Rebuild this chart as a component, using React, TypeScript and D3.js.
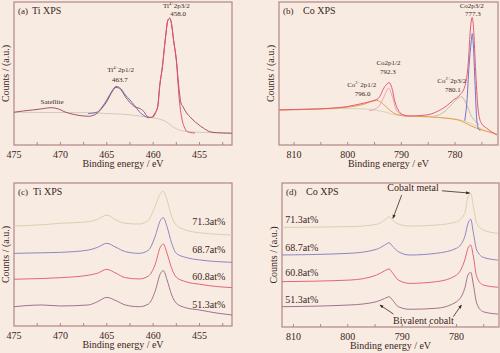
import * as d3 from 'd3';

type Pt = [number, number];

// ---- panel (a): Ti 2p fit ----
const tiRaw: Pt[] = [
  [475, 22.9], [474, 23.8], [473, 24.5], [472, 25.3], [471, 26.1], [470.2, 25.2], [469.5, 23.1],
  [468.5, 21.3], [467.5, 20.3], [467, 20.1], [466.5, 20.6], [466, 22.4], [465.5, 25.9], [465, 30.3],
  [464.5, 36.4], [464.0, 40.3], [463.5, 38.8], [463, 33.8], [462.5, 29.7], [462, 26.8], [461.5, 25.7],
  [461, 23.4], [460.6, 19.8], [460.2, 19.2], [459.8, 22.4], [459.5, 26.8], [459.3, 40.8], [459.0, 54.8],
  [458.7, 73.4], [458.4, 87.4], [458.2, 88.6], [458.0, 83.9], [457.8, 73.4], [457.5, 59.4], [457.2, 38.5],
  [457.0, 29.4], [456.8, 27.0], [456.4, 22.4], [456.0, 19.6], [455.7, 17.5], [455.2, 14.7], [454.6, 11.9],
  [453.9, 9.3], [453.2, 8.6], [452.5, 8.4], [451.5, 8.2],
];
const ti2p3Fit: Pt[] = [
  [460.5, 19.2], [460, 19.6], [459.7, 23.1], [459.5, 27.3], [459.3, 40.8], [459.0, 54.8], [458.7, 73.4],
  [458.4, 87.4], [458.2, 88.6], [458.0, 83.9], [457.8, 73.4], [457.5, 59.4], [457.2, 33.0], [457.0, 22.0],
  [456.8, 15.5], [456.6, 11.9], [456.4, 9.8], [456.0, 8.7], [455.5, 8.4],
];
const ti2p1Fit: Pt[] = [
  [467, 22], [466, 23.1], [465.5, 26.6], [465, 31.5], [464.5, 37.1], [464.0, 40.9], [463.5, 39.5],
  [463, 35], [462.5, 31.5], [462, 27.6], [461.5, 23.3], [461, 20.6], [460.5, 18.9],
];
const tiBackground: Pt[] = [
  [475, 22.9], [470, 22.7], [466.8, 22.6], [465, 22], [463.2, 21.5], [461.5, 20.3], [460.4, 19.4],
  [459.3, 18], [458.6, 16.3], [457.9, 12.8], [457.2, 10.5], [456.1, 9.3], [454, 8.7], [451.5, 8.5],
];

// ---- panel (b): Co 2p fit ----
const coRaw: Pt[] = [
  [812.8, 24.5], [808, 25], [805.8, 25.2], [803.3, 25.7], [800.2, 26.8], [797.7, 28.7], [795.9, 30.3],
  [794.3, 32.6], [793.1, 40.8], [792.3, 43.6], [791.8, 40.3], [791.2, 30.3], [790.6, 24.5], [789.9, 21.5],
  [788.4, 20.3], [785.3, 21], [783.4, 23.3], [781.6, 27.3], [780.3, 31.5], [779.1, 35], [778.2, 40.8],
  [777.5, 59.4], [777.2, 78.1], [776.8, 89.3], [776.5, 78.1], [776.2, 54.8], [775.7, 24.5], [775.1, 15.2],
  [774.1, 11.7], [772.2, 7],
];
const coOxide2p1: Pt[] = [
  [812.8, 24.5], [805, 25.2], [800, 26.5], [797, 28.5], [795.5, 30.5], [794.6, 31.2], [793.5, 29],
  [792.5, 25.5], [791.5, 22.5], [790.5, 21], [789, 20.3], [785, 19.8], [781.6, 18.7], [779, 17],
  [778, 15.2], [776, 11.7], [774, 9.5], [772.2, 7.5],
];
const coMetal2p1: Pt[] = [
  [796, 24], [795, 25], [794, 28], [793.2, 34], [792.4, 39.7], [791.7, 34], [791, 25], [790.2, 21.5], [789, 19.8],
];
const coOxide2p3: Pt[] = [
  [784, 20], [782.5, 22], [781.6, 24.5], [780.5, 29], [779.5, 32.5], [778.8, 33.8], [778.2, 31],
  [777.6, 26], [777.2, 22], [776.3, 17], [775.5, 14],
];
const coMetal2p3: Pt[] = [
  [778.2, 17], [777.8, 30], [777.4, 55], [777.0, 72], [776.8, 78], [776.6, 70], [776.3, 45],
  [776.0, 20], [775.7, 12], [775.3, 10],
];
const coBackground: Pt[] = [
  [812.8, 24.5], [800, 25.5], [796, 25], [793, 23], [791, 21], [788, 20], [782, 19], [779, 17.5],
  [777, 15], [775, 11], [772.2, 7.5],
];

// ---- panel (c): Ti 2p vs Ti content ----
const tiContent = ['71.3at%', '68.7at%', '60.8at%', '51.3at%'];
const tiEnergies = [475, 472, 470, 467, 466, 465, 464, 463, 461.5, 460.5, 459.8, 459.2, 458.9, 458.5, 458, 457.5, 456.5, 455, 453, 451.5];
const ti713 = [69.9, 70.8, 71.8, 72.9, 74.6, 77.6, 74.1, 71.8, 71.3, 74.1, 83.4, 92.8, 94.2, 88.1, 76.4, 70.6, 67.1, 65.2, 64.1, 63.6];
const ti687 = [50.8, 51.2, 51.5, 53.1, 55, 57.8, 55, 52, 50.8, 53.1, 62.4, 74.1, 75.7, 69.4, 57.8, 50.8, 48, 46.2, 45, 44.5];
const ti608 = [32.7, 33.2, 33.8, 35.5, 36.9, 39.6, 36.9, 33.8, 32.9, 35, 42.7, 55.5, 57.3, 50.8, 40.3, 34.1, 31, 29.2, 27.5, 26.8];
const ti513 = [13.5, 14.7, 14, 14.7, 17, 20, 17.7, 14.7, 13.5, 15.4, 24, 36.9, 38.7, 32.2, 21.7, 15.9, 12.8, 11.2, 8.9, 7.7];

// ---- panel (d): Co 2p vs Ti content ----
const coEnergies = [812.1, 799.6, 794.7, 793.2, 792.4, 791.8, 790.7, 788.6, 783.7, 780, 778.5, 777.9, 777.4, 776.9, 776.3, 775.1, 772.4];
const co713 = [69.2, 69.7, 71.3, 74.3, 76.6, 74.3, 71.5, 70.1, 70.8, 73.1, 79, 90.5, 92.8, 83.5, 72, 67.4, 65];
const co687 = [50, 51.2, 54, 56.9, 58.5, 56.2, 52.3, 50, 51.2, 54.7, 62.7, 72, 74.8, 65.1, 53.5, 48.4, 46.5];
const co608 = [31.5, 32.6, 36.1, 39.1, 40.3, 37.7, 32.6, 30.3, 31.5, 36.1, 46.5, 54.7, 56.9, 48.8, 34.9, 29.2, 27.6];
const co513 = [14.1, 15.3, 17.6, 19.9, 21, 18.8, 14.1, 12.3, 13, 17.6, 26.9, 36.1, 38, 29.2, 16.5, 10.6, 9];

const stackColors = ['#d8d0b0', '#8e86c2', '#e5647a', '#a3708f'];

const BG = '#f8ece2';
const FRAME = '#b38585';
const INK = '#3d2424';
const FONT = '"Liberation Serif", "DejaVu Serif", serif';

interface Series { data: Pt[]; color: string; width?: number }
interface Note { text: string; sup?: string; rest?: string; x: number; y: number; size?: number; anchor?: string }
interface Arrow { from: Pt; to: Pt }

interface PanelProps {
  letter: string;
  title: string;
  titleOffset: number;
  left: number; right: number; top: number; bottom: number;
  domain: [number, number];
  ticks: number[];
  minor: number[];
  series: Series[];
  notes: Note[];
  arrows?: Arrow[];
}

function Panel({ letter, title, titleOffset, left, right, top, bottom, domain, ticks, minor, series, notes, arrows = [] }: PanelProps) {
  const x = d3.scaleLinear().domain(domain).range([left, right]);
  const y = d3.scaleLinear().domain([0, 100]).range([bottom, top]);
  const line = d3.line<Pt>().x(d => x(d[0])).y(d => y(d[1])).curve(d3.curveMonotoneX);
  const midX = (left + right) / 2;

  return (
    <g>
      <rect x={left} y={top} width={right - left} height={bottom - top} fill={BG} stroke={FRAME} strokeWidth={1.2} />
      {series.map((s, i) => (
        <path key={i} d={line(s.data) || ''} fill="none" stroke={s.color} strokeWidth={s.width ?? 1} />
      ))}
      {/* inward ticks */}
      {minor.map(t => (
        <line key={t} x1={x(t)} x2={x(t)} y1={bottom} y2={bottom - 3} stroke={FRAME} strokeWidth={1} />
      ))}
      {ticks.map(t => (
        <text key={t} x={x(t)} y={bottom + 12.5} textAnchor="middle" fontSize={10} fill={INK}>{t}</text>
      ))}
      <text x={midX} y={bottom + 22} textAnchor="middle" fontSize={10} fill={INK}>Binding energy / eV</text>
      <text transform={`translate(${left - 5},${(top + bottom) / 2}) rotate(-90)`} textAnchor="middle" fontSize={10} fill={INK}>
        Counts / (a.u.)
      </text>
      <text x={left + 4} y={top + 12} fontSize={9} fill={INK}>{letter}</text>
      <text x={left + titleOffset} y={top + 12} fontSize={10} fill={INK}>{title}</text>
      {notes.map((n, i) => (
        <text key={i} x={x(n.x)} y={y(n.y)} textAnchor={n.anchor ?? 'middle'} fontSize={n.size ?? 7} fill={INK}>
          {n.text}
          {n.sup && <tspan fontSize={(n.size ?? 7) * 0.65} dy={-3}>{n.sup}</tspan>}
          {n.rest && <tspan dy={n.sup ? 3 : 0}>{n.rest}</tspan>}
        </text>
      ))}
      {arrows.map((a, i) => (
        <line key={i} x1={x(a.from[0])} y1={y(a.from[1])} x2={x(a.to[0])} y2={y(a.to[1])}
          stroke={INK} strokeWidth={0.8} markerEnd="url(#arrowHead)" />
      ))}
    </g>
  );
}

const zipStack = (energies: number[], values: number[]): Pt[] => energies.map((e, i) => [e, values[i]]);

export default function App() {
  const tiTicks = [475, 470, 465, 460, 455];
  const tiMinor = d3.range(472.5, 451.5, -2.5);
  const coTicks = [810, 800, 790, 780];
  const coMinor = d3.range(810, 772, -5);

  const tiStack = [ti713, ti687, ti608, ti513];
  const coStack = [co713, co687, co608, co513];

  return (
    <div style={{ position: 'absolute', left: 0, top: 0, width: 500, height: 353, background: BG }}>
      <svg width={500} height={353} fontFamily={FONT}>
        <defs>
          <marker id="arrowHead" viewBox="0 0 10 10" refX="9" refY="5" markerWidth="5" markerHeight="5" orient="auto">
            <path d="M0,1 L10,5 L0,9 z" fill={INK} />
          </marker>
        </defs>
        <rect width={500} height={353} fill={BG} />

        <Panel letter="(a)" title="Ti XPS" titleOffset={18} left={14} right={232} top={2} bottom={145}
          domain={[475, 451.5]} ticks={tiTicks} minor={tiMinor}
          series={[
            { data: tiBackground, color: '#d2cabb' },
            { data: ti2p1Fit, color: '#6b6cc0' },
            { data: tiRaw, color: '#a05468' },
            { data: ti2p3Fit, color: '#e4506c' },
          ]}
          notes={[
            { text: 'Ti', sup: '4+', rest: '2p3/2', x: 457.5, y: 95.8 },
            { text: '458.0', x: 457.3, y: 90.2 },
            { text: 'Ti', sup: '4+', rest: '2p1/2', x: 463.5, y: 51 },
            { text: '463.7', x: 463.6, y: 44 },
            { text: 'Satellite', x: 470.9, y: 28.7 },
          ]}
        />

        <Panel letter="(b)" title="Co XPS" titleOffset={24} left={279} right={498} top={2} bottom={145}
          domain={[812.8, 772.0]} ticks={coTicks} minor={coMinor}
          series={[
            { data: coBackground, color: '#d9cfc4' },
            { data: coOxide2p1, color: '#eaa040' },
            { data: coMetal2p1, color: '#eda2b2' },
            { data: coOxide2p3, color: '#c2bca2' },
            { data: coMetal2p3, color: '#7272c8' },
            { data: coRaw, color: '#e65a74' },
          ]}
          notes={[
            { text: 'Co2p3/2', x: 776.9, y: 95.8 },
            { text: '777.3', x: 776.7, y: 90.2 },
            { text: 'Co2p1/2', x: 792.4, y: 55.9 },
            { text: '792.3', x: 792.5, y: 49.7 },
            { text: 'Co', sup: '2+', rest: '2p1/2', x: 797.4, y: 40.6 },
            { text: '796.0', x: 797.2, y: 34.3 },
            { text: 'Co', sup: '2+', rest: '2p3/2', x: 780.6, y: 43.4 },
            { text: '780.1', x: 780.4, y: 37 },
          ]}
        />

        <Panel letter="(c)" title="Ti XPS" titleOffset={19} left={14} right={232} top={183} bottom={326}
          domain={[475, 451.5]} ticks={tiTicks} minor={tiMinor}
          series={tiStack.map((v, i) => ({ data: zipStack(tiEnergies, v), color: stackColors[i] }))}
          notes={tiContent.map((t, i) => ({ text: t, x: 454.0, y: [70.6, 50.8, 32.2, 12.6][i], size: 10 }))}
        />

        <Panel letter="(d)" title="Co XPS" titleOffset={24} left={282} right={499} top={183} bottom={327}
          domain={[812.1, 772.2]} ticks={coTicks} minor={coMinor}
          series={coStack.map((v, i) => ({ data: zipStack(coEnergies, v), color: stackColors[i] }))}
          notes={[
            ...tiContent.map((t, i) => ({ text: t, x: 811.5, y: [72, 52.8, 35.4, 16.9][i], size: 10, anchor: 'start' })),
            { text: 'Cobalt metal', x: 788.0, y: 94.6, size: 10 },
            { text: 'Bivalent cobalt', x: 786.1, y: 2.1, size: 10 },
          ]}
          arrows={[
            { from: [790.1, 91.6], to: [791.7, 75.5] },
            { from: [782.7, 94.6], to: [777.6, 93] },
            { from: [791.6, 9.0], to: [794.1, 15.3] },
            { from: [780.6, 7.2], to: [779.1, 15.3] },
          ]}
        />
      </svg>
    </div>
  );
}
